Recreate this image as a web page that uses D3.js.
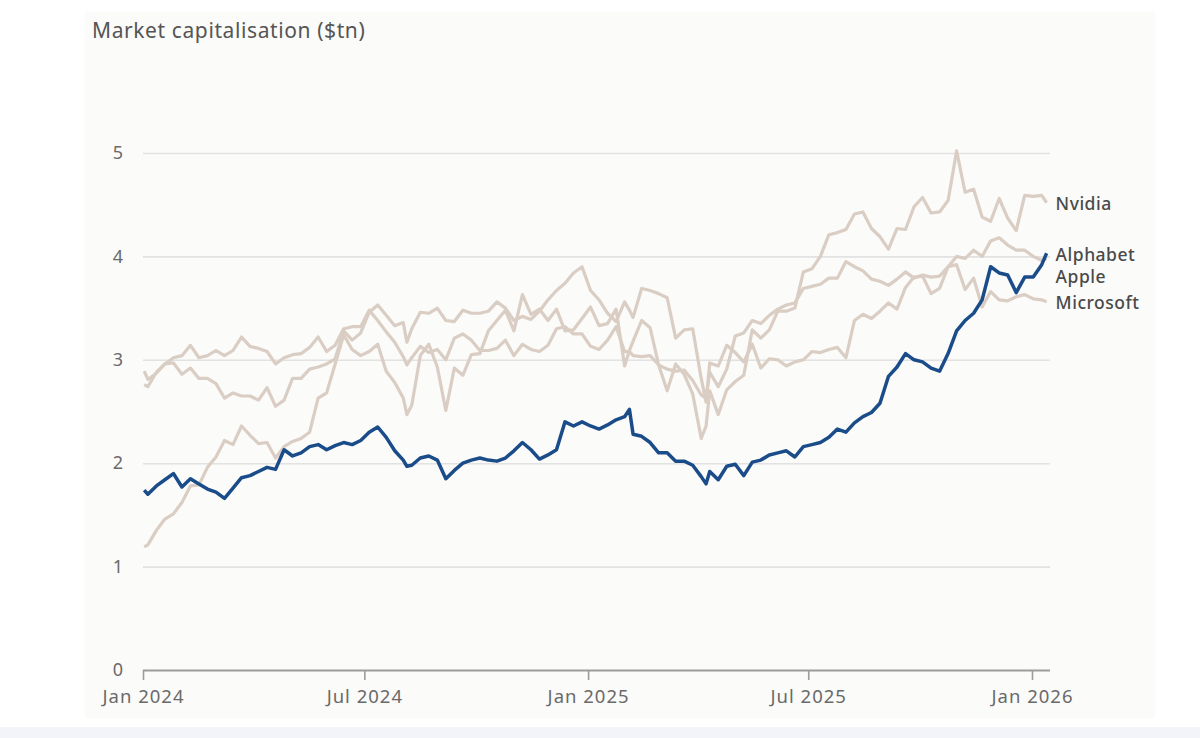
<!DOCTYPE html>
<html>
<head>
<meta charset="utf-8">
<script src="https://cdn.jsdelivr.net/npm/d3@7"></script>
<style>
  body { margin: 0; background: #fff; }
  svg { display: block; font-family: "Noto Sans", sans-serif; }
</style>
</head>
<body>
<div id="chart"></div>
<script>
// Market capitalisation of four tech groups, $tn, roughly weekly

const dates = [
  "2024-01-02","2024-01-05","2024-01-12","2024-01-19","2024-01-26",
  "2024-02-02","2024-02-09","2024-02-16","2024-02-23",
  "2024-03-01","2024-03-08","2024-03-15","2024-03-22","2024-03-29",
  "2024-04-05","2024-04-12","2024-04-19","2024-04-26",
  "2024-05-03","2024-05-10","2024-05-17","2024-05-24","2024-05-31",
  "2024-06-07","2024-06-14","2024-06-21","2024-06-28",
  "2024-07-05","2024-07-12","2024-07-19","2024-07-26",
  "2024-08-02","2024-08-05","2024-08-09","2024-08-16","2024-08-23","2024-08-30",
  "2024-09-06","2024-09-13","2024-09-20","2024-09-27",
  "2024-10-04","2024-10-11","2024-10-18","2024-10-25",
  "2024-11-01","2024-11-08","2024-11-15","2024-11-22","2024-11-29",
  "2024-12-06","2024-12-13","2024-12-20","2024-12-27",
  "2025-01-03","2025-01-10","2025-01-17","2025-01-24","2025-01-31",
  "2025-02-04","2025-02-07","2025-02-14","2025-02-21","2025-02-28",
  "2025-03-07","2025-03-14","2025-03-21","2025-03-28",
  "2025-04-04","2025-04-08","2025-04-11","2025-04-18","2025-04-25",
  "2025-05-02","2025-05-09","2025-05-16","2025-05-23","2025-05-30",
  "2025-06-06","2025-06-13","2025-06-20","2025-06-27",
  "2025-07-04","2025-07-11","2025-07-18","2025-07-25",
  "2025-08-01","2025-08-08","2025-08-15","2025-08-22","2025-08-29",
  "2025-09-05","2025-09-12","2025-09-19","2025-09-26",
  "2025-10-03","2025-10-10","2025-10-17","2025-10-24","2025-10-31",
  "2025-11-07","2025-11-14","2025-11-21","2025-11-28",
  "2025-12-05","2025-12-12","2025-12-19","2025-12-26",
  "2026-01-02","2026-01-09","2026-01-13"
];

const nvidia = [
  1.19, 1.21, 1.35, 1.46, 1.51,
  1.62, 1.78, 1.79, 1.96,
  2.06, 2.22, 2.18, 2.36, 2.27,
  2.19, 2.20, 2.05, 2.16,
  2.21, 2.24, 2.30, 2.63, 2.68,
  2.96, 3.24, 3.10, 3.04,
  3.08, 3.15, 2.89, 2.78,
  2.63, 2.47, 2.56, 3.04, 3.15, 2.93,
  2.51, 2.92, 2.85, 3.05,
  3.06, 3.28, 3.38, 3.48,
  3.28, 3.63, 3.44, 3.49, 3.38,
  3.49, 3.28, 3.29, 3.40,
  3.51, 3.33, 3.35, 3.49, 2.94,
  3.09, 3.18, 3.38, 3.31, 2.95,
  2.70, 2.96, 2.86, 2.67,
  2.24, 2.36, 2.70, 2.47, 2.71,
  2.79, 2.85, 3.29, 3.21, 3.29,
  3.47, 3.47, 3.50, 3.85,
  3.88, 4.00, 4.21, 4.23,
  4.26, 4.41, 4.43, 4.27, 4.19,
  4.07, 4.27, 4.26, 4.48,
  4.57, 4.42, 4.43, 4.54, 5.02,
  4.62, 4.65, 4.38, 4.34,
  4.56, 4.37, 4.25, 4.59,
  4.58, 4.59, 4.52
];

const apple = [
  2.89, 2.81, 2.87, 2.96, 2.97,
  2.86, 2.92, 2.82, 2.82,
  2.77, 2.63, 2.68, 2.65, 2.65,
  2.61, 2.73, 2.55, 2.61,
  2.82, 2.82, 2.91, 2.93, 2.96,
  3.01, 3.28, 3.19, 3.26,
  3.46, 3.53, 3.43, 3.33,
  3.36, 3.17, 3.30, 3.46, 3.45, 3.50,
  3.38, 3.37, 3.48, 3.45,
  3.45, 3.47, 3.56, 3.50,
  3.38, 3.42, 3.39, 3.47, 3.58,
  3.67, 3.74, 3.84, 3.90,
  3.67, 3.58, 3.45, 3.37, 3.56,
  3.48, 3.41, 3.69, 3.67, 3.64,
  3.60, 3.21, 3.29, 3.30,
  2.82, 2.59, 2.97, 2.94, 3.14,
  3.07, 2.98, 3.15, 2.92, 3.01,
  3.00, 2.94, 2.98, 3.00,
  3.08, 3.07, 3.10, 3.12,
  3.02, 3.38, 3.44, 3.40, 3.47,
  3.55, 3.49, 3.70, 3.80,
  3.81, 3.64, 3.69, 3.90, 4.00,
  3.98, 4.06, 4.00, 4.15,
  4.18, 4.11, 4.06, 4.06,
  4.00, 3.96, 3.98
];

const microsoft = [
  2.76, 2.74, 2.88, 2.96, 3.02,
  3.04, 3.14, 3.02, 3.04,
  3.09, 3.04, 3.09, 3.22, 3.13,
  3.11, 3.08, 2.96, 3.02,
  3.05, 3.06, 3.12, 3.22, 3.08,
  3.14, 3.30, 3.32, 3.32,
  3.48, 3.38, 3.27, 3.17,
  3.03, 2.95, 3.02, 3.13, 3.07, 3.10,
  3.00, 3.21, 3.25, 3.19,
  3.09, 3.09, 3.11, 3.19,
  3.04, 3.15, 3.10, 3.08, 3.14,
  3.30, 3.32, 3.25, 3.25,
  3.13, 3.10, 3.19, 3.32, 3.08,
  3.08, 3.04, 3.03, 3.04, 2.95,
  2.91, 2.89, 2.90, 2.80,
  2.66, 2.63, 2.88, 2.74, 2.91,
  3.23, 3.26, 3.38, 3.35, 3.43,
  3.49, 3.53, 3.55, 3.69,
  3.71, 3.73, 3.79, 3.79,
  3.95, 3.90, 3.86, 3.78, 3.76,
  3.72, 3.78, 3.85, 3.79,
  3.82, 3.80, 3.81, 3.90, 3.92,
  3.68, 3.79, 3.51, 3.66,
  3.58, 3.57, 3.61, 3.63,
  3.59, 3.58, 3.56
];

const alphabet = [
  1.74, 1.70, 1.78, 1.84, 1.90,
  1.77, 1.85, 1.80, 1.75,
  1.72, 1.66, 1.76, 1.86, 1.88,
  1.92, 1.96, 1.94, 2.13,
  2.07, 2.10, 2.16, 2.18, 2.13,
  2.17, 2.20, 2.18, 2.22,
  2.30, 2.35, 2.25, 2.12,
  2.03, 1.97, 1.98, 2.05, 2.07, 2.03,
  1.85, 1.93, 2.00, 2.03,
  2.05, 2.03, 2.02, 2.05,
  2.12, 2.20, 2.13, 2.04, 2.08,
  2.13, 2.40, 2.36, 2.40,
  2.36, 2.33, 2.37, 2.42, 2.45,
  2.52, 2.28, 2.26, 2.20, 2.10,
  2.10, 2.02, 2.02, 1.98,
  1.87, 1.80, 1.92, 1.84, 1.97,
  1.99, 1.88, 2.01, 2.03, 2.08,
  2.10, 2.12, 2.06, 2.16,
  2.18, 2.20, 2.25, 2.33,
  2.30, 2.39, 2.45, 2.49, 2.58,
  2.84, 2.93, 3.06, 3.00,
  2.98, 2.92, 2.89, 3.06, 3.28,
  3.38, 3.45, 3.58, 3.90,
  3.84, 3.82, 3.65, 3.80,
  3.80, 3.92, 4.03
];

const seriesNames = ["Nvidia", "Apple", "Microsoft", "Alphabet"];
const seriesValues = [nvidia, apple, microsoft, alphabet];
const highlight = "Alphabet";

const yTicks = [0, 1, 2, 3, 4, 5];
const xTicks = ["2024-01-01", "2024-07-01", "2025-01-01", "2025-07-01", "2026-01-01"];

const width = 1200, height = 738;
const plotLeft = 143, plotRight = 1050, plotTop = 153, plotBottom = 670;

const parse = d3.utcParse("%Y-%m-%d");

const x = d3.scaleUtc()
  .domain([parse("2024-01-01"), parse("2026-01-01")])
  .range([plotLeft, 1032]);

const y = d3.scaleLinear()
  .domain([0, 5])
  .range([plotBottom, plotTop]);

const svg = d3.select("#chart")
  .append("svg")
  .attr("width", width)
  .attr("height", height);

// background panel and the pale strip under it
svg.append("rect")
  .attr("x", 85).attr("y", 12)
  .attr("width", 1070).attr("height", 706)
  .attr("fill", "#fbfbf9");
svg.append("rect")
  .attr("x", 0).attr("y", 727)
  .attr("width", width).attr("height", 11)
  .attr("fill", "#f3f4fa");

svg.append("text")
  .attr("x", 92)
  .attr("y", 38)
  .attr("font-size", 21)
  .attr("letter-spacing", 0.6)
  .attr("fill", "#555")
  .text("Market capitalisation ($tn)");

// gridlines + y labels
const yAxis = svg.append("g")
  .attr("transform", `translate(${plotLeft},0)`)
  .call(d3.axisLeft(y).tickValues(yTicks).tickSize(-(plotRight - plotLeft)).tickPadding(20).tickFormat(d3.format("d")));
yAxis.select(".domain").remove();
yAxis.selectAll(".tick line")
  .attr("stroke", d => d === 0 ? "#9c9c9c" : "#e2e2e2")
  .attr("stroke-width", d => d === 0 ? 2.2 : 1.6);
yAxis.selectAll(".tick text")
  .attr("font-family", "Noto Sans, sans-serif")
  .attr("font-size", 18)
  .attr("fill", "#6a6a6a");

// x ticks + labels
const xAxis = svg.append("g")
  .attr("transform", `translate(0,${plotBottom})`)
  .call(d3.axisBottom(x).tickValues(xTicks.map(parse)).tickSize(10).tickPadding(10).tickFormat(d3.utcFormat("%b %Y")));
xAxis.select(".domain").remove();
xAxis.selectAll(".tick line").attr("stroke", "#9c9c9c").attr("stroke-width", 1.6);
xAxis.selectAll(".tick text")
  .attr("font-family", "Noto Sans, sans-serif")
  .attr("font-size", 18.5)
  .attr("letter-spacing", 1)
  .attr("fill", "#6a6a6a");

const series = seriesNames.map((name, i) => ({
  name,
  values: dates.map((d, j) => ({ date: parse(d), value: seriesValues[i][j] }))
}));

const line = d3.line()
  .defined(d => d.value != null)
  .x(d => x(d.date))
  .y(d => y(d.value));

// grey lines first, highlighted one on top
svg.append("g")
  .attr("fill", "none")
  .attr("stroke-linejoin", "round")
  .selectAll("path")
  .data(series.filter(s => s.name !== highlight).concat(series.filter(s => s.name === highlight)))
  .join("path")
  .attr("stroke", d => d.name === highlight ? "#1b4c8a" : "#dacdc3")
  .attr("stroke-width", d => d.name === highlight ? 3.5 : 3.2)
  .attr("d", d => line(d.values));

// end labels, nudged apart where they collide
const labels = series.map(s => {
  const last = s.values[s.values.length - 1];
  return { name: s.name, x: x(last.date) + 9, y: y(last.value) };
}).sort((a, b) => a.y - b.y);
for (let i = 1; i < labels.length; i++) {
  if (labels[i].y - labels[i - 1].y < 22) labels[i].y = labels[i - 1].y + 22;
}

svg.append("g")
  .attr("font-size", 17.5)
  .attr("font-weight", 500)
  .attr("letter-spacing", 0.5)
  .attr("fill", "#4a4a4a")
  .selectAll("text")
  .data(labels)
  .join("text")
  .attr("x", d => d.x)
  .attr("y", d => d.y)
  .attr("dy", "0.42em")
  .text(d => d.name);
</script>
</body>
</html>
